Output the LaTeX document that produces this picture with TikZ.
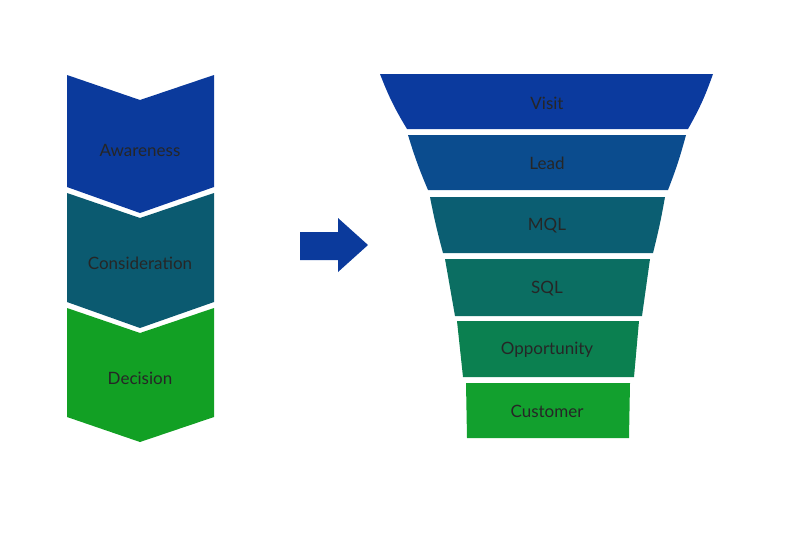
\documentclass[tikz,border=0pt]{standalone}
\usepackage{fontspec}
\setmainfont{Lato}
\definecolor{cA}{HTML}{0B3A9C}
\definecolor{cB}{HTML}{0B5A70}
\definecolor{cC}{HTML}{12A024}
\definecolor{f1}{HTML}{0B3A9E}
\definecolor{f2}{HTML}{0B4C8E}
\definecolor{f3}{HTML}{0B5E72}
\definecolor{f4}{HTML}{0B6E62}
\definecolor{f5}{HTML}{0B8050}
\definecolor{f6}{HTML}{12A02E}
\begin{document}
\begin{tikzpicture}[x=1pt,y=-1pt,lbl/.style={font=\fontsize{17}{20}\selectfont,text=black!85}]
\useasboundingbox (0,0) rectangle (800,552);
% chevrons
\fill[cA] (67,75) -- (140,100) -- (214,75) -- (214,187) -- (140,213) -- (67,187) -- cycle;
\fill[cB] (67,193) -- (140,218) -- (214,193) -- (214,302) -- (140,328) -- (67,302) -- cycle;
\fill[cC] (67,308) -- (140,333) -- (214,308) -- (214,417) -- (140,442) -- (67,417) -- cycle;
\node[lbl] (aw) at (140,150) {Awareness};
\node[lbl] (co) at (140,263) {Consideration};
\node[lbl] (de) at (140,378) {Decision};
% arrow
\fill[cA] (300,232) -- (338,232) -- (338,218) -- (368,245) -- (338,272) -- (338,260) -- (300,260) -- cycle;
% funnel
\fill[f1] (380,74) -- (713,74) to[bend left=5] (688,129) -- (407,129) to[bend left=5] (380,74);
\fill[f2] (408,135) -- (686,135) to[bend left=3] (668,190) -- (428,190) to[bend left=3] (408,135);
\fill[f3] (430,197) -- (665,197) to[bend left=2] (653,253) -- (443,253) to[bend left=2] (430,197);
\fill[f4] (445,259) -- (650,259) -- (642,316) -- (455,316) -- cycle;
\fill[f5] (457,321) -- (639,321) -- (634,377) -- (463,377) -- cycle;
\fill[f6] (466,383) -- (630,383) -- (629,438) -- (467,438) -- cycle;
\node[lbl] (v) at (547,103) {Visit};
\node[lbl] (l) at (547,163) {Lead};
\node[lbl] (m) at (547,226) {MQL};
\node[lbl] (s) at (547,289) {SQL};
\node[lbl] (o) at (547,350) {Opportunity};
\node[lbl] (c) at (547,411) {Customer};
\end{tikzpicture}
\end{document}
